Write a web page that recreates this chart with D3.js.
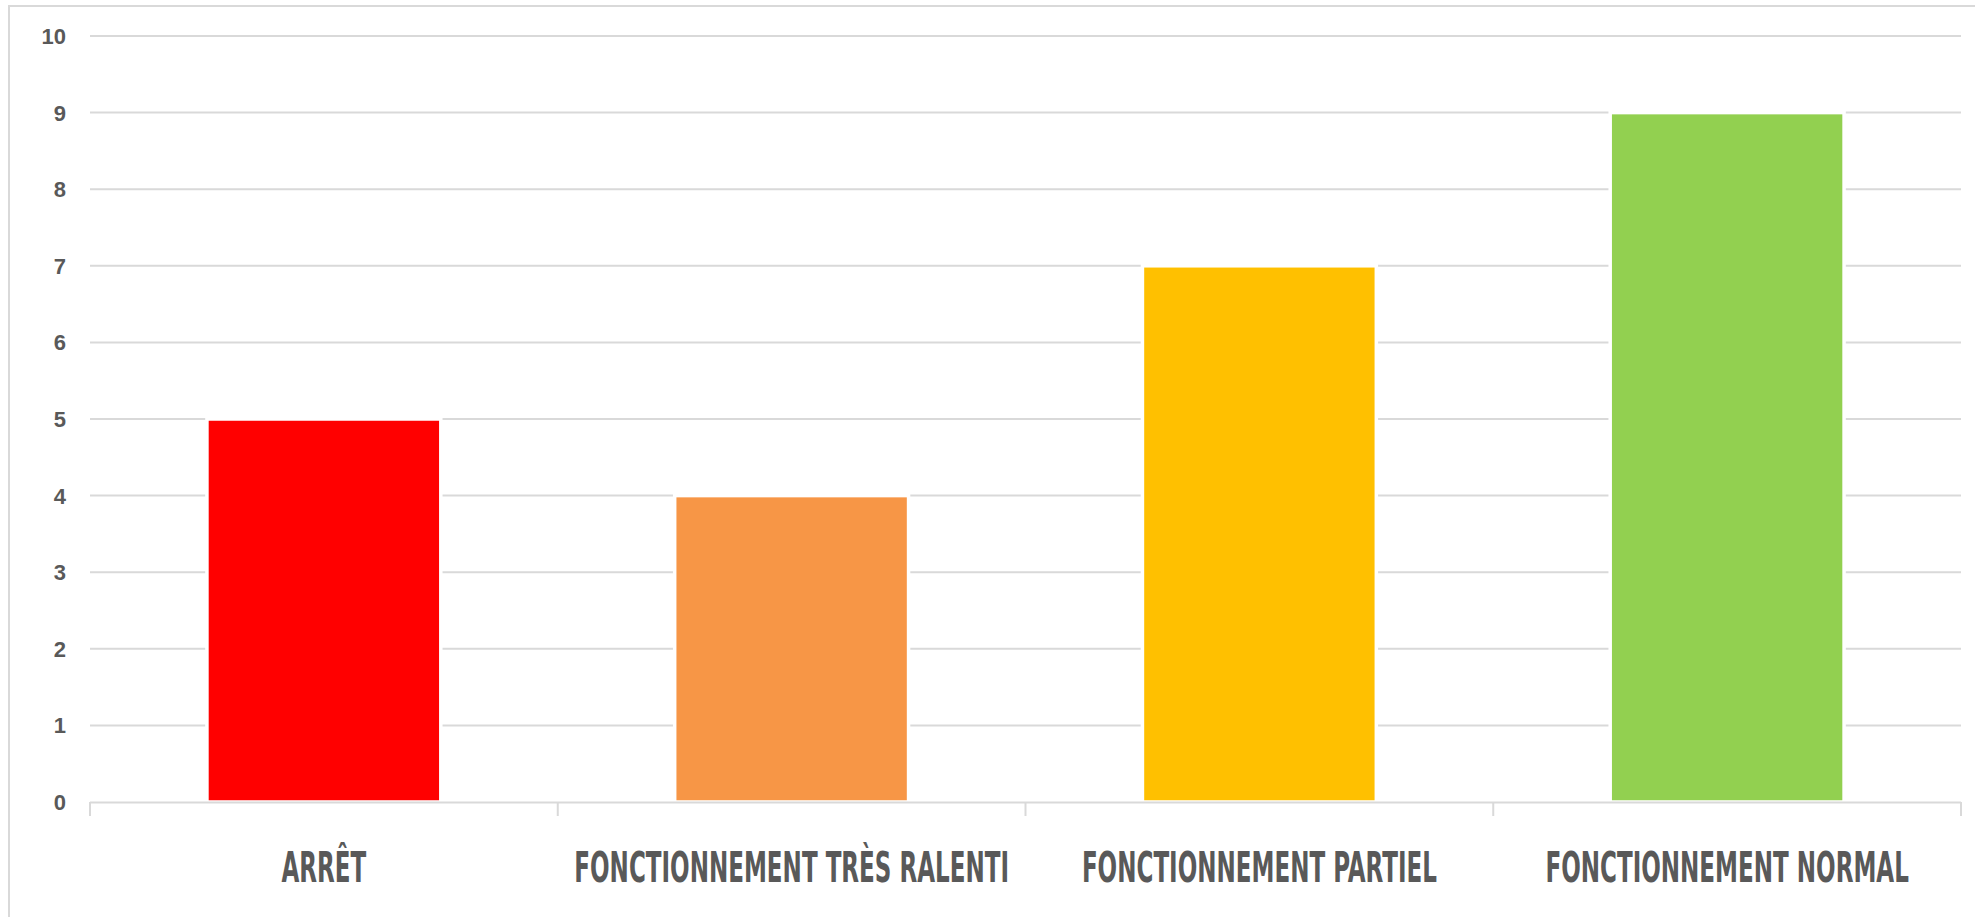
<!DOCTYPE html>
<html>
<head>
<meta charset="utf-8">
<script src="https://cdn.jsdelivr.net/npm/d3@7"></script>
<style>
  html, body { margin: 0; padding: 0; background: #ffffff; }
  svg { display: block; }
</style>
</head>
<body>
<svg id="chart" width="1975" height="917"></svg>
<script>
// ---- data ----
const categories = ["ARRÊT", "FONCTIONNEMENT TRÈS RALENTI", "FONCTIONNEMENT PARTIEL", "FONCTIONNEMENT NORMAL"];
const values = [5, 4, 7, 9];
const barColors = ["#FF0000", "#F79646", "#FFC000", "#92D050"];
const yTicks = [0, 1, 2, 3, 4, 5, 6, 7, 8, 9, 10];

// ---- layout ----
const W = 1975, H = 917;
const plot = { left: 90, right: 1961, top: 36, bottom: 802 };
const svg = d3.select("#chart");

// frame
svg.append("rect")
  .attr("x", 9).attr("y", 6)
  .attr("width", W + 50).attr("height", H + 50)
  .attr("fill", "#ffffff")
  .attr("stroke", "#d9d9d9").attr("stroke-width", 2);

const x = d3.scaleBand()
  .domain(categories)
  .range([plot.left, plot.right])
  .paddingInner(0.5)
  .paddingOuter(0.25);

const y = d3.scaleLinear()
  .domain([0, 10])
  .range([plot.bottom, plot.top]);

// gridlines (excluding 0, which is the axis)
svg.append("g")
  .selectAll("line")
  .data(yTicks.filter(d => d !== 0))
  .join("line")
  .attr("x1", plot.left).attr("x2", plot.right)
  .attr("y1", d => y(d)).attr("y2", d => y(d))
  .attr("stroke", "#d9d9d9").attr("stroke-width", 2);

// y tick labels
svg.append("g")
  .selectAll("text")
  .data(yTicks)
  .join("text")
  .attr("x", 66)
  .attr("y", d => y(d))
  .attr("dy", "0.36em")
  .attr("text-anchor", "end")
  .attr("font-family", "'Liberation Sans', Arial, Helvetica, sans-serif")
  .attr("font-weight", "bold")
  .attr("font-size", 22)
  .attr("fill", "#595959")
  .text(d => d);

// bars
svg.append("g")
  .selectAll("rect")
  .data(categories)
  .join("rect")
  .attr("x", d => x(d))
  .attr("width", x.bandwidth())
  .attr("y", (d, i) => y(values[i]))
  .attr("height", (d, i) => y(0) - y(values[i]))
  .attr("fill", (d, i) => barColors[i])
  .attr("stroke", "#ffffff")
  .attr("stroke-width", 3.5);

// x axis line
svg.append("line")
  .attr("x1", plot.left).attr("x2", plot.right)
  .attr("y1", y(0) + 0.5).attr("y2", y(0) + 0.5)
  .attr("stroke", "#d9d9d9").attr("stroke-width", 2);

// category boundary ticks
const step = x.step();
const boundaries = categories.map(c => x(c) - step * x.paddingInner() / 2);
boundaries.push(plot.right);
boundaries[0] = plot.left;
svg.append("g")
  .selectAll("line")
  .data(boundaries)
  .join("line")
  .attr("x1", d => d).attr("x2", d => d)
  .attr("y1", y(0)).attr("y2", y(0) + 14)
  .attr("stroke", "#d9d9d9").attr("stroke-width", 2);

// category labels (condensed)
const labelG = svg.append("g");
const labels = labelG.selectAll("text")
  .data(categories)
  .join("text")
  .attr("text-anchor", "middle")
  .attr("font-family", "'Liberation Sans Narrow', 'DejaVu Sans Condensed', 'Liberation Sans', sans-serif")
  .attr("font-weight", "bold")
  .attr("font-size", 42)
  .attr("fill", "#595959")
  .text(d => d);

// compress horizontally to mimic condensed display font
const longestNode = labels.nodes()[1];
const natural = longestNode.getComputedTextLength();
const sx = 435 / natural;
labels.attr("transform", d => `translate(${x(d) + x.bandwidth() / 2},882) scale(${sx},1)`);
</script>
</body>
</html>
